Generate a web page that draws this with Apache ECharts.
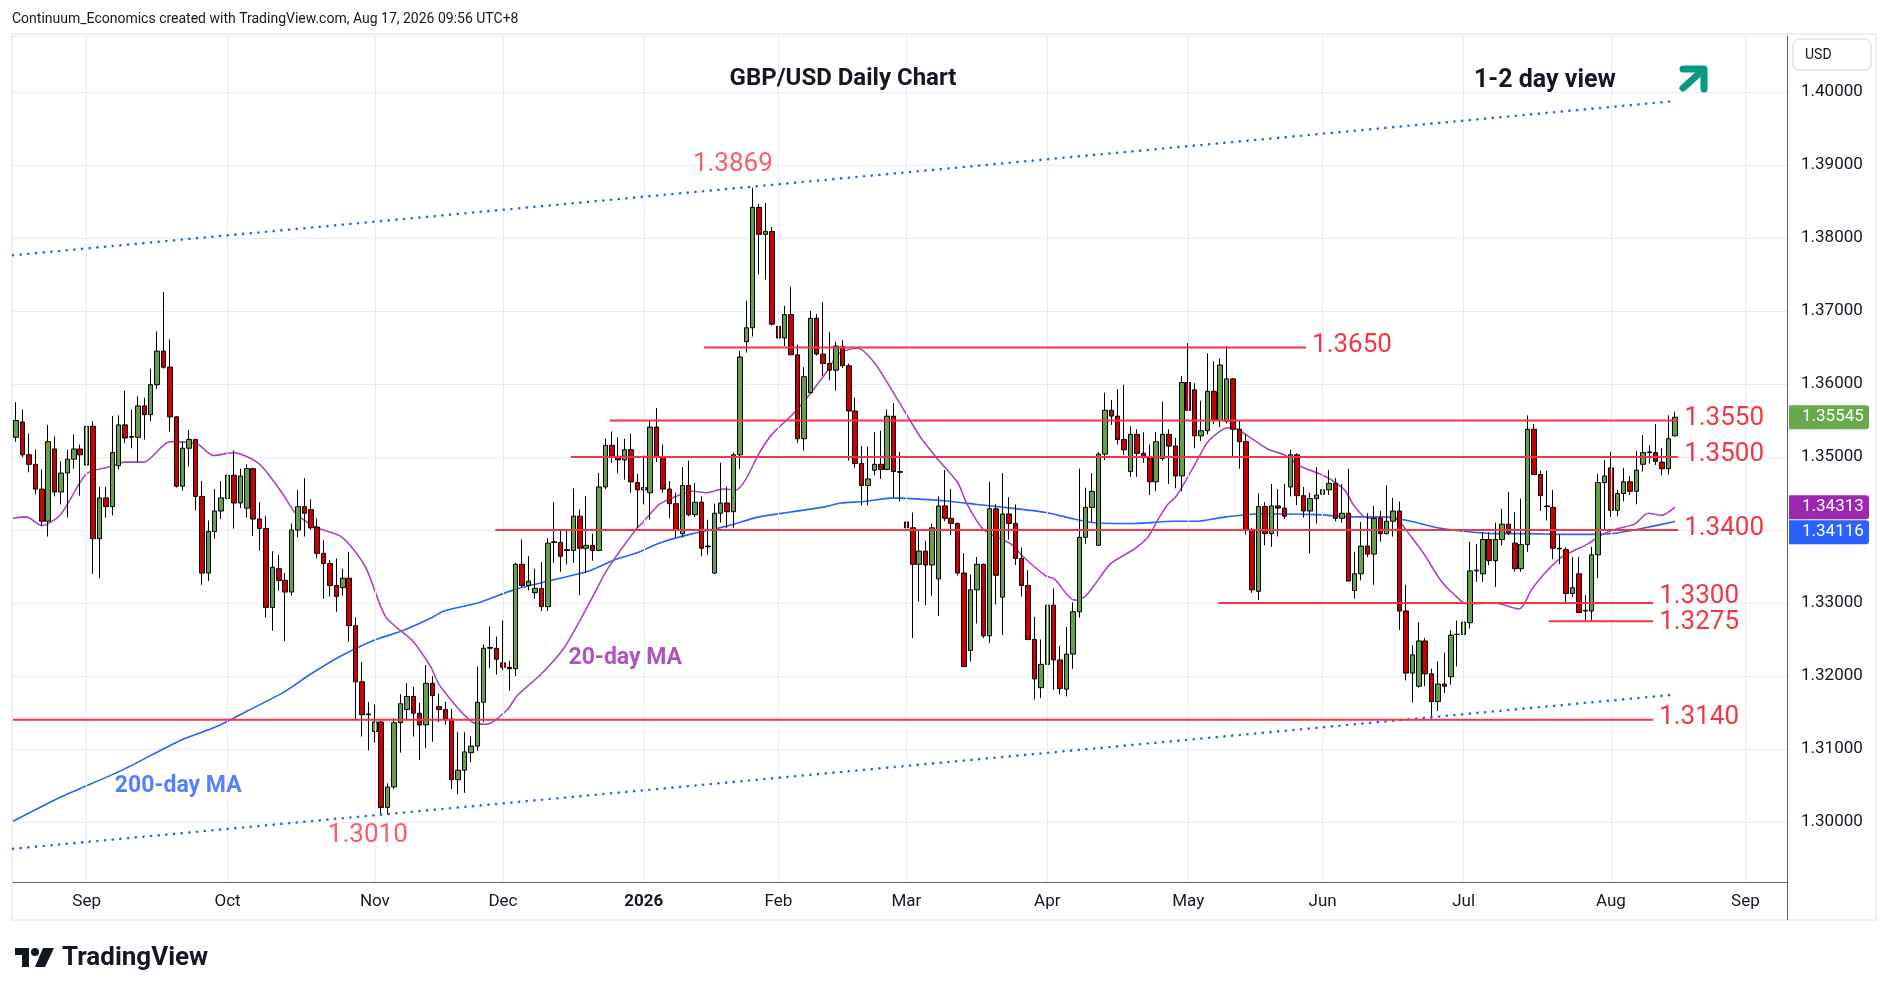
<!DOCTYPE html>
<html><head><meta charset="utf-8">
<script src="https://cdn.jsdelivr.net/npm/echarts@6/dist/echarts.min.js"></script>
<style>html,body{margin:0;padding:0;background:#fff}#c{width:1888px;height:996px}</style>
</head><body><div id="c"></div>
<script>
// ---------- DATA ----------
const startDate = '2025-08-15';
const holidays = ['2025-12-25', '2026-01-01'];
const categoryCount = 277;
const monthNames = ['Jan','Feb','Mar','Apr','May','Jun','Jul','Aug','Sep','Oct','Nov','Dec'];

// daily candles [open, high, low, close], from 2025-08-15
const candles = [
[1.3527,1.3575,1.3521,1.3550],[1.3548,1.3565,1.3500,1.3503],[1.3503,1.3532,1.3479,1.3490],[1.3490,1.3510,1.3449,1.3456],
[1.3456,1.3483,1.3406,1.3412],[1.3412,1.3544,1.3391,1.3521],[1.3511,1.3528,1.3446,1.3452],[1.3452,1.3494,1.3435,1.3478],
[1.3478,1.3510,1.3417,1.3497],[1.3497,1.3531,1.3484,1.3511],[1.3511,1.3517,1.3447,1.3503],[1.3489,1.3550,1.3485,1.3542],
[1.3542,1.3549,1.3340,1.3388],[1.3388,1.3459,1.3334,1.3444],[1.3444,1.3459,1.3417,1.3432],[1.3432,1.3556,1.3420,1.3506],
[1.3488,1.3557,1.3483,1.3544],[1.3544,1.3591,1.3519,1.3526],[1.3527,1.3565,1.3512,1.3528],[1.3527,1.3583,1.3493,1.3570],
[1.3570,1.3581,1.3524,1.3558],[1.3558,1.3621,1.3549,1.3599],[1.3599,1.3672,1.3593,1.3645],[1.3645,1.3726,1.3621,1.3623],
[1.3623,1.3661,1.3535,1.3555],[1.3555,1.3556,1.3458,1.3460],[1.3460,1.3521,1.3454,1.3512],[1.3512,1.3537,1.3487,1.3524],
[1.3524,1.3525,1.3427,1.3446],[1.3446,1.3467,1.3325,1.3341],[1.3341,1.3413,1.3330,1.3398],[1.3398,1.3456,1.3388,1.3426],
[1.3426,1.3467,1.3415,1.3444],[1.3443,1.3527,1.3435,1.3475],[1.3475,1.3509,1.3402,1.3437],[1.3437,1.3484,1.3430,1.3474],
[1.3430,1.3490,1.3417,1.3484],[1.3484,1.3485,1.3392,1.3415],[1.3415,1.3438,1.3372,1.3402],[1.3402,1.3419,1.3280,1.3294],
[1.3294,1.3371,1.3262,1.3349],[1.3347,1.3366,1.3317,1.3331],[1.3331,1.3341,1.3248,1.3315],[1.3315,1.3409,1.3310,1.3400],
[1.3400,1.3455,1.3390,1.3432],[1.3432,1.3471,1.3391,1.3423],[1.3428,1.3442,1.3400,1.3403],[1.3404,1.3416,1.3361,1.3368],
[1.3368,1.3386,1.3306,1.3354],[1.3354,1.3359,1.3309,1.3324],[1.3324,1.3361,1.3288,1.3309],[1.3321,1.3347,1.3310,1.3334],
[1.3334,1.3370,1.3247,1.3269],[1.3269,1.3280,1.3141,1.3192],[1.3192,1.3219,1.3117,1.3147],[1.3147,1.3164,1.3098,1.3148],
[1.3124,1.3161,1.3109,1.3137],[1.3137,1.3139,1.3010,1.3020],[1.3020,1.3053,1.3010,1.3048],[1.3048,1.3142,1.3045,1.3136],
[1.3136,1.3175,1.3095,1.3162],[1.3154,1.3190,1.3141,1.3172],[1.3172,1.3185,1.3117,1.3149],[1.3149,1.3163,1.3085,1.3133],
[1.3133,1.3215,1.3101,1.3190],[1.3190,1.3200,1.3110,1.3173],[1.3158,1.3176,1.3137,1.3154],[1.3154,1.3165,1.3133,1.3141],
[1.3141,1.3155,1.3045,1.3058],[1.3058,1.3123,1.3038,1.3071],[1.3071,1.3123,1.3040,1.3096],[1.3095,1.3117,1.3082,1.3104],
[1.3104,1.3213,1.3097,1.3164],[1.3164,1.3243,1.3137,1.3238],[1.3238,1.3268,1.3211,1.3239],[1.3238,1.3254,1.3202,1.3223],
[1.3218,1.3276,1.3208,1.3212],[1.3212,1.3221,1.3180,1.3210],[1.3210,1.3355,1.3200,1.3353],[1.3353,1.3387,1.3322,1.3324],
[1.3324,1.3364,1.3317,1.3330],[1.3314,1.3347,1.3306,1.3320],[1.3320,1.3356,1.3289,1.3295],[1.3295,1.3389,1.3289,1.3382],
[1.3383,1.3438,1.3355,1.3384],[1.3383,1.3400,1.3343,1.3364],[1.3372,1.3401,1.3353,1.3373],[1.3372,1.3457,1.3355,1.3419],
[1.3419,1.3428,1.3311,1.3375],[1.3375,1.3446,1.3341,1.3379],[1.3379,1.3395,1.3358,1.3372],[1.3372,1.3478,1.3371,1.3459],
[1.3459,1.3525,1.3456,1.3516],[1.3516,1.3535,1.3492,1.3501],[1.3501,1.3527,1.3478,1.3496],[1.3496,1.3525,1.3469,1.3510],
[1.3510,1.3532,1.3451,1.3466],[1.3465,1.3477,1.3403,1.3455],[1.3455,1.3502,1.3435,1.3458],[1.3451,1.3549,1.3414,1.3541],
[1.3541,1.3567,1.3493,1.3500],[1.3500,1.3517,1.3451,1.3456],[1.3456,1.3467,1.3416,1.3436],[1.3436,1.3451,1.3390,1.3400],
[1.3395,1.3486,1.3390,1.3461],[1.3461,1.3495,1.3419,1.3421],[1.3421,1.3464,1.3418,1.3438],[1.3438,1.3446,1.3364,1.3375],
[1.3377,1.3414,1.3366,1.3378],[1.3341,1.3436,1.3340,1.3423],[1.3423,1.3492,1.3410,1.3437],[1.3437,1.3459,1.3403,1.3425],
[1.3425,1.3506,1.3403,1.3503],[1.3503,1.3645,1.3484,1.3637],[1.3658,1.3714,1.3643,1.3677],[1.3677,1.3869,1.3665,1.3842],
[1.3842,1.3847,1.3750,1.3805],[1.3805,1.3848,1.3743,1.3809],[1.3809,1.3815,1.3680,1.3682],[1.3679,1.3716,1.3624,1.3663],
[1.3663,1.3707,1.3652,1.3695],[1.3695,1.3733,1.3640,1.3640],[1.3640,1.3654,1.3519,1.3525],[1.3525,1.3623,1.3509,1.3610],
[1.3588,1.3700,1.3588,1.3690],[1.3690,1.3696,1.3639,1.3641],[1.3641,1.3712,1.3611,1.3628],[1.3628,1.3671,1.3605,1.3619],
[1.3619,1.3658,1.3591,1.3652],[1.3651,1.3660,1.3622,1.3625],[1.3625,1.3628,1.3495,1.3563],[1.3563,1.3581,1.3485,1.3491],
[1.3491,1.3515,1.3434,1.3461],[1.3461,1.3514,1.3434,1.3470],[1.3482,1.3534,1.3475,1.3490],[1.3490,1.3536,1.3470,1.3483],
[1.3483,1.3565,1.3482,1.3556],[1.3556,1.3574,1.3445,1.3480],[1.3479,1.3507,1.3439,1.3480],[1.3411,1.3455,1.3313,1.3403],
[1.3403,1.3424,1.3252,1.3353],[1.3353,1.3401,1.3302,1.3371],[1.3371,1.3385,1.3297,1.3352],[1.3352,1.3409,1.3310,1.3403],
[1.3333,1.3446,1.3282,1.3433],[1.3433,1.3482,1.3412,1.3416],[1.3416,1.3456,1.3393,1.3409],[1.3409,1.3410,1.3338,1.3341],
[1.3341,1.3368,1.3212,1.3213],[1.3235,1.3339,1.3220,1.3318],[1.3318,1.3363,1.3272,1.3353],[1.3353,1.3354,1.3252,1.3255],
[1.3255,1.3466,1.3245,1.3429],[1.3429,1.3435,1.3298,1.3338],[1.3308,1.3478,1.3256,1.3422],[1.3422,1.3445,1.3387,1.3409],
[1.3409,1.3435,1.3352,1.3361],[1.3361,1.3376,1.3309,1.3324],[1.3324,1.3345,1.3249,1.3250],[1.3250,1.3281,1.3168,1.3196],
[1.3184,1.3250,1.3170,1.3216],[1.3216,1.3346,1.3181,1.3297],[1.3297,1.3320,1.3181,1.3222],[1.3222,1.3241,1.3175,1.3183],
[1.3182,1.3267,1.3172,1.3230],[1.3230,1.3301,1.3210,1.3288],[1.3288,1.3484,1.3280,1.3390],[1.3390,1.3458,1.3381,1.3431],
[1.3431,1.3478,1.3411,1.3453],[1.3379,1.3507,1.3379,1.3504],[1.3504,1.3588,1.3496,1.3564],[1.3564,1.3578,1.3544,1.3556],
[1.3556,1.3593,1.3517,1.3524],[1.3524,1.3599,1.3503,1.3510],[1.3480,1.3542,1.3473,1.3531],[1.3531,1.3538,1.3473,1.3505],
[1.3505,1.3534,1.3492,1.3499],[1.3499,1.3517,1.3448,1.3466],[1.3466,1.3534,1.3453,1.3521],[1.3498,1.3576,1.3495,1.3531],
[1.3531,1.3538,1.3463,1.3515],[1.3515,1.3526,1.3457,1.3474],[1.3474,1.3611,1.3453,1.3602],[1.3602,1.3656,1.3563,1.3564],
[1.3592,1.3601,1.3512,1.3529],[1.3529,1.3577,1.3522,1.3536],[1.3536,1.3642,1.3531,1.3590],[1.3590,1.3631,1.3545,1.3550],
[1.3550,1.3635,1.3541,1.3626],[1.3549,1.3652,1.3546,1.3607],[1.3607,1.3608,1.3499,1.3538],[1.3538,1.3550,1.3484,1.3521],
[1.3521,1.3531,1.3394,1.3400],[1.3400,1.3403,1.3314,1.3318],[1.3316,1.3450,1.3304,1.3432],[1.3432,1.3438,1.3379,1.3395],
[1.3395,1.3463,1.3377,1.3433],[1.3433,1.3456,1.3391,1.3430],[1.3430,1.3463,1.3415,1.3419],[1.3459,1.3510,1.3446,1.3503],
[1.3503,1.3505,1.3434,1.3447],[1.3447,1.3459,1.3417,1.3426],[1.3426,1.3451,1.3368,1.3443],[1.3443,1.3486,1.3409,1.3448],
[1.3449,1.3478,1.3407,1.3455],[1.3455,1.3482,1.3448,1.3464],[1.3464,1.3471,1.3412,1.3416],[1.3416,1.3463,1.3410,1.3423],
[1.3423,1.3484,1.3330,1.3330],[1.3317,1.3370,1.3306,1.3340],[1.3340,1.3411,1.3331,1.3378],[1.3378,1.3423,1.3363,1.3367],
[1.3367,1.3433,1.3325,1.3416],[1.3416,1.3426,1.3384,1.3395],[1.3395,1.3461,1.3394,1.3412],[1.3412,1.3444,1.3391,1.3426],
[1.3426,1.3439,1.3263,1.3289],[1.3289,1.3325,1.3194,1.3204],[1.3204,1.3242,1.3164,1.3229],[1.3186,1.3274,1.3184,1.3248],
[1.3248,1.3252,1.3186,1.3203],[1.3203,1.3210,1.3140,1.3165],[1.3165,1.3220,1.3152,1.3189],[1.3189,1.3232,1.3177,1.3186],
[1.3199,1.3263,1.3188,1.3256],[1.3257,1.3276,1.3213,1.3257],[1.3257,1.3292,1.3220,1.3274],[1.3273,1.3384,1.3265,1.3344],
[1.3344,1.3381,1.3329,1.3345],[1.3340,1.3397,1.3329,1.3387],[1.3387,1.3397,1.3352,1.3358],[1.3358,1.3410,1.3322,1.3387],
[1.3387,1.3429,1.3379,1.3408],[1.3408,1.3452,1.3393,1.3396],[1.3382,1.3424,1.3343,1.3347],[1.3347,1.3443,1.3343,1.3380],
[1.3380,1.3557,1.3370,1.3538],[1.3538,1.3545,1.3475,1.3476],[1.3476,1.3481,1.3426,1.3447],[1.3432,1.3481,1.3413,1.3433],
[1.3431,1.3455,1.3360,1.3375],[1.3374,1.3394,1.3353,1.3375],[1.3373,1.3376,1.3299,1.3313],[1.3313,1.3363,1.3308,1.3321],
[1.3340,1.3363,1.3286,1.3287],[1.3289,1.3311,1.3275,1.3290],[1.3289,1.3377,1.3276,1.3366],[1.3366,1.3477,1.3334,1.3465],
[1.3465,1.3496,1.3400,1.3474],[1.3485,1.3507,1.3418,1.3427],[1.3427,1.3455,1.3419,1.3450],[1.3450,1.3485,1.3439,1.3466],
[1.3466,1.3474,1.3448,1.3453],[1.3453,1.3508,1.3435,1.3482],[1.3490,1.3530,1.3480,1.3506],[1.3506,1.3516,1.3491,1.3507],
[1.3506,1.3545,1.3489,1.3494],[1.3493,1.3512,1.3475,1.3484],[1.3484,1.3557,1.3476,1.3525],[1.3529,1.3562,1.3528,1.35545]
];

// 20-day MA [bar index, value]
const ma20 = [
[-0.5,1.3416],[1.6,1.3418],[4,1.3406],[6.9,1.3421],[11,1.3477],[14.7,1.3487],[16.8,1.3493],[19.9,1.3493],[24,1.3521],
[28.2,1.3518],[30.8,1.3502],[33.9,1.3506],[37.9,1.3491],[41.5,1.3451],[43.6,1.3423],[46.7,1.3404],[50.9,1.3390],
[54.5,1.3350],[57.7,1.3281],[61.8,1.3249],[64.7,1.3213],[66.2,1.3186],[71.4,1.3136],[73.5,1.3134],[76.7,1.3154],
[78.2,1.3173],[81.9,1.3202],[85.5,1.3238],[89.2,1.3295],[92.3,1.3346],[96.7,1.3400],[97.8,1.3410],[100.4,1.3435],
[103.0,1.3446],[105.6,1.3453],[107.7,1.3451],[110.3,1.3456],[112.4,1.3455],[113.9,1.3469],[116.0,1.3505],[118.1,1.3532],
[121.2,1.3558],[123.3,1.3579],[126.4,1.3615],[128.5,1.3642],[131.4,1.3649],[134.0,1.3629],[137.6,1.3579],[141.2,1.3527],
[143.9,1.3497],[147.0,1.3465],[148.5,1.3435],[151.1,1.3400],[155.3,1.3381],[157.4,1.3362],[160.8,1.3337],[162.1,1.3333],
[165.2,1.3304],[166.8,1.3308],[168.3,1.3324],[170.9,1.3354],[174.6,1.3374],[176.7,1.3390],[178.2,1.3413],[179.8,1.3435],
[181.1,1.3446],[182.9,1.3472],[184.5,1.3497],[186.0,1.3520],[188.1,1.3536],[189.2,1.3540],[190.7,1.3538],[192.3,1.3529],
[195.4,1.3511],[198.0,1.3503],[200.6,1.3487],[203.2,1.3478],[205.3,1.3469],[207.4,1.3455],[209.0,1.3432],[211.0,1.3416],
[213.6,1.3418],[215.7,1.3414],[217.8,1.3391],[219.9,1.3366],[222.5,1.3330],[224.6,1.3311],[226.4,1.3299],[230.8,1.3300],
[234.7,1.3292],[236.6,1.3318],[238.6,1.3340],[241.3,1.3363],[243.3,1.3372],[245.4,1.3381],[247.5,1.3393],[250.1,1.3402],
[252.7,1.3408],[254.8,1.3423],[256.9,1.3420],[259,1.34313]
];

// 200-day MA [bar index, value]
const ma200 = [
[-0.5,1.3001],[6.9,1.3034],[16.3,1.3070],[25.7,1.3112],[31.1,1.3130],[36.3,1.3153],[42.0,1.3179],[45.7,1.3201],
[50.4,1.3226],[55.6,1.3248],[60.3,1.3262],[64.7,1.3279],[66.8,1.3289],[72.0,1.3300],[77.7,1.3318],[84.0,1.3332],
[89.2,1.3343],[93.4,1.3359],[96.7,1.3368],[100.4,1.3382],[105.6,1.3395],[110.8,1.3405],[116.0,1.3418],[121.2,1.3425],
[126.4,1.3432],[128.7,1.3437],[132.4,1.3439],[137.1,1.3444],[139.7,1.3443],[144.9,1.3440],[150.1,1.3435],[155.3,1.3430],
[160.8,1.3424],[165.2,1.3415],[168.3,1.3410],[174.6,1.3409],[180.8,1.3412],[184.5,1.3412],[188.1,1.3417],[193.6,1.3422],
[198.0,1.3422],[203.2,1.3421],[208.4,1.3418],[213.6,1.3418],[217.8,1.3412],[221.9,1.3403],[226.4,1.3398],[230.8,1.3395],
[236.1,1.3395],[241.3,1.3394],[246.5,1.3394],[250.1,1.3396],[253.8,1.3402],[259,1.34116]
];

// support / resistance levels: price, first and last bar index of the drawn line
const levelPrices = [1.3650, 1.3550, 1.3500, 1.3400, 1.3300, 1.3275, 1.3140];
const levelFrom   = [107.4, 92.7, 86.6, 74.8, 187.7, 239.3, -0.5];
const levelTo     = [201.4, 259.5, 259.5, 259.5, 255.6, 255.6, 255.6];

// trend channel (dotted) end points [bar index, price]
const upperChannel = [[-0.5, 1.37764], [258.8, 1.39875]];
const lowerChannel = [[-0.5, 1.29633], [258.8, 1.31744]];

// annotation texts anchored at [bar index, price]
const extremeLabels = [{text:'1.3869', at:[111.9, 1.3901]}, {text:'1.3010', at:[54.9, 1.2982]}];
const maLabels = [{text:'20-day MA', at:[95.1, 1.3225]}, {text:'200-day MA', at:[25.3, 1.3049]}];

// ---------- BUILD ----------
const dates = [];
{
  const d = new Date(startDate + 'T00:00:00Z');
  while (dates.length < categoryCount) {
    const wd = d.getUTCDay();
    const s = d.toISOString().slice(0, 10);
    if (wd !== 0 && wd !== 6 && holidays.indexOf(s) < 0) dates.push(s);
    d.setUTCDate(d.getUTCDate() + 1);
  }
}
const monthStart = [];
for (let i = 1; i < dates.length; i++) if (dates[i].slice(5, 7) !== dates[i - 1].slice(5, 7)) monthStart.push(i);
const monthSet = new Set(monthStart);

const RED = '#f23645', GRID = '#e6ecf2', AXIS = '#5d606b', TXT = '#131722';
const FONT = 'Roboto, "Noto Sans", sans-serif';

const chart = echarts.init(document.getElementById('c'), null, {renderer: 'canvas'});

const levelSeries = levelPrices.map((p, i) => ({
  type: 'line', xAxisIndex: 1, yAxisIndex: 0, silent: true, z: 6,
  data: [[levelFrom[i], p], [levelTo[i], p]],
  symbol: 'none', lineStyle: {color: RED, width: 2},
  endLabel: {show: true, formatter: p.toFixed(4), color: RED, fontSize: 26, fontFamily: FONT,
             distance: 6, offset: [0, p === 1.33 ? -7 : (p === 1.3275 ? 1 : -2)]}
}));

const option = {
  animation: false,
  textStyle: {fontFamily: FONT},
  grid: {left: 13, right: 101, top: 36, bottom: 114, containLabel: false},
  xAxis: [
    {type: 'category', data: dates, boundaryGap: true,
     axisLine: {show: true, onZero: false, lineStyle: {color: AXIS, width: 1}},
     axisTick: {show: false}, splitLine: {show: false},
     axisLabel: {interval: (idx) => monthSet.has(idx), margin: 11, color: TXT, fontSize: 17,
       formatter: (v) => { const m = +v.slice(5, 7); return m === 1 ? '{y|' + v.slice(0, 4) + '}' : monthNames[m - 1]; },
       rich: {y: {fontWeight: 'bold', fontSize: 17, color: TXT}}}},
    {type: 'value', min: -0.5, max: categoryCount - 0.5, show: false,
     axisLine: {show: false, onZero: false}, splitLine: {show: false}}
  ],
  yAxis: [{
    type: 'value', position: 'right', scale: true,
    min: 1.291781, max: 1.407671, splitNumber: 12, minInterval: 0.01, maxInterval: 0.01,
    axisLine: {show: true, onZero: false, lineStyle: {color: AXIS, width: 1}},
    axisTick: {show: false},
    axisLabel: {margin: 14, color: TXT, fontSize: 17, showMinLabel: false, showMaxLabel: false,
                formatter: (v) => v.toFixed(5)},
    splitLine: {show: true, lineStyle: {color: GRID, width: 1}}
  }],
  series: [
    {type: 'line', xAxisIndex: 1, yAxisIndex: 0, data: [[-10, null]], silent: true, z: 0, symbol: 'none',
     markLine: {silent: true, symbol: ['none', 'none'], label: {show: false}, animation: false,
       lineStyle: {color: GRID, width: 1, type: 'solid'}, data: monthStart.map(i => ({xAxis: i}))}},
    {type: 'line', name: 'MA200', xAxisIndex: 1, yAxisIndex: 0, data: ma200, symbol: 'none', smooth: 0.25,
     lineStyle: {color: '#2962ff', width: 1.6}, z: 2, silent: true},
    {type: 'line', name: 'MA20', xAxisIndex: 1, yAxisIndex: 0, data: ma20, symbol: 'none', smooth: 0.25,
     lineStyle: {color: '#ab47bc', width: 1.6}, z: 2, silent: true},
    {type: 'candlestick', xAxisIndex: 0, yAxisIndex: 0, z: 4, barWidth: 5,
     data: candles.map(c => [c[0], c[3], c[2], c[1]]),
     itemStyle: {color: '#64a04a', color0: '#cc0000', borderColor: '#000', borderColor0: '#000',
                 borderColorDoji: '#000', borderWidth: 1}},
    {type: 'line', xAxisIndex: 1, yAxisIndex: 0, data: upperChannel, symbol: 'none', silent: true, z: 5,
     lineStyle: {color: '#2962ff', width: 2.6, type: [0.1, 7.6], cap: 'round'}},
    {type: 'line', xAxisIndex: 1, yAxisIndex: 0, data: lowerChannel, symbol: 'none', silent: true, z: 5,
     lineStyle: {color: '#2962ff', width: 2.6, type: [0.1, 7.6], cap: 'round'}},
    ...levelSeries,
    {type: 'scatter', xAxisIndex: 1, yAxisIndex: 0, silent: true, z: 7, symbolSize: 1,
     itemStyle: {color: 'rgba(0,0,0,0)'},
     data: extremeLabels.map(l => ({value: l.at, label: {show: true, position: 'inside', formatter: l.text,
       color: RED, fontSize: 26, fontFamily: FONT}}))},
    {type: 'scatter', xAxisIndex: 1, yAxisIndex: 0, silent: true, z: 7, symbolSize: 1,
     itemStyle: {color: 'rgba(0,0,0,0)'},
     data: maLabels.map((l, i) => ({value: l.at, label: {show: true, position: 'inside', formatter: l.text,
       color: i === 0 ? '#9c27b0' : '#2962ff', fontSize: 23, fontWeight: 'bold', fontFamily: FONT}}))}
  ]
};
chart.setOption(option);

// ---------- decorations ----------
const lastClose = candles[candles.length - 1][3];
const lastMa20 = ma20[ma20.length - 1][1];
const lastMa200 = ma200[ma200.length - 1][1];
const yClose = chart.convertToPixel({yAxisIndex: 0}, lastClose);
const yMa20 = chart.convertToPixel({yAxisIndex: 0}, lastMa20);
let yMa200 = chart.convertToPixel({yAxisIndex: 0}, lastMa200);
if (yMa200 < yMa20 + 25) yMa200 = yMa20 + 25;

function tag(y, val, fill) {
  return [
    {type: 'rect', z: 100, shape: {x: 1789, y: y - 12, width: 80, height: 24, r: [0, 3, 3, 0]}, style: {fill: fill}},
    {type: 'text', z: 101, x: 1802, y: y, style: {text: val.toFixed(5), fill: '#fff', fontSize: 17,
      fontFamily: FONT, verticalAlign: 'middle', align: 'left'}}
  ];
}

chart.setOption({graphic: [
  {type: 'rect', z: -1, silent: true, shape: {x: 12, y: 34, width: 1864, height: 886},
   style: {fill: 'none', stroke: '#eceff3', lineWidth: 2}},
  {type: 'line', z: 50, shape: {x1: 1787.5, y1: 882, x2: 1787.5, y2: 920}, style: {stroke: AXIS, lineWidth: 1}},
  {type: 'text', x: 12, y: 19, style: {text: 'Continuum_Economics created with TradingView.com, Aug 17, 2026 09:56 UTC+8',
    fill: TXT, fontSize: 14, fontFamily: FONT, verticalAlign: 'middle'}},
  {type: 'text', x: 843, y: 79, z: 60, style: {text: 'GBP/USD Daily Chart', fill: TXT, fontSize: 24, fontWeight: 'bold',
    fontFamily: FONT, align: 'center', verticalAlign: 'middle'}},
  {type: 'text', x: 1474, y: 81, z: 60, style: {text: '1-2 day view', fill: TXT, fontSize: 25, fontWeight: 'bold',
    fontFamily: FONT, align: 'left', verticalAlign: 'middle'}},
  {type: 'line', z: 60, shape: {x1: 1683, y1: 88, x2: 1702, y2: 71}, style: {stroke: '#089981', lineWidth: 7, lineCap: 'round'}},
  {type: 'polyline', z: 60, shape: {points: [[1683, 69], [1704, 69], [1704, 89]]},
   style: {stroke: '#089981', lineWidth: 7, lineCap: 'round', lineJoin: 'round', fill: 'none'}},
  {type: 'rect', z: 60, shape: {x: 1793, y: 39, width: 78, height: 31, r: 6}, style: {fill: '#fff', stroke: '#e0e3eb', lineWidth: 1.5}},
  {type: 'text', z: 61, x: 1805, y: 55, style: {text: 'USD', fill: TXT, fontSize: 14, fontFamily: FONT, verticalAlign: 'middle'}},
  ...tag(yClose, lastClose, '#6aa84f'),
  ...tag(yMa20, lastMa20, '#9c27b0'),
  ...tag(yMa200, lastMa200, '#2962ff'),
  {type: 'polygon', z: 60, shape: {points: [[15, 948], [29, 948], [29, 967], [22, 967], [22, 955], [15, 955]]}, style: {fill: TXT}},
  {type: 'circle', z: 60, shape: {cx: 35, cy: 952, r: 4}, style: {fill: TXT}},
  {type: 'polygon', z: 60, shape: {points: [[43, 948], [54, 948], [45, 967], [35, 967]]}, style: {fill: TXT}},
  {type: 'text', z: 60, x: 62, y: 958, style: {text: 'TradingView', fill: TXT, fontSize: 26, fontWeight: 'bold',
    fontFamily: FONT, verticalAlign: 'middle'}}
]});
</script>
</body></html>
